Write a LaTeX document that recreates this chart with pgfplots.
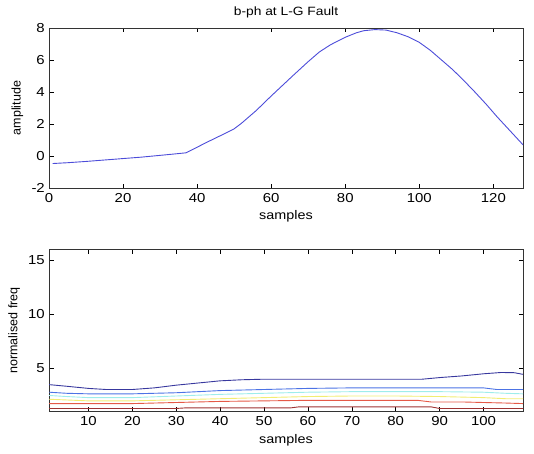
\documentclass[border=0pt]{standalone}
\usepackage{pgfplots}
\pgfplotsset{compat=1.18}
\usepackage{fontspec}
\setmainfont[FakeStretch=1.15]{Liberation Sans}
\newfontfamily\rotfont{Liberation Sans}
\definecolor{lineblue}{rgb}{0.30,0.30,0.85}
\definecolor{cnavy}{rgb}{0.22,0.22,0.62}
\definecolor{cblue}{rgb}{0.30,0.45,0.90}
\definecolor{ccyan}{rgb}{0.62,0.93,0.92}
\definecolor{cyellow}{rgb}{0.95,0.93,0.45}
\definecolor{cred}{rgb}{0.90,0.35,0.28}
\definecolor{cdred}{rgb}{0.62,0.20,0.20}
\begin{document}
\fontsize{12}{14}\selectfont
\begin{tikzpicture}
\useasboundingbox (0,0) rectangle (534pt,453pt);
\pgfplotsset{
  every axis/.append style={
    scale only axis, width=474pt,
    tick align=inside, major tick length=4.5pt,
    axis line style={line width=0.8pt, black!80},
    every tick/.style={black, line width=0.6pt},
    /pgf/number format/assume math mode=true,
    tick label style={font=\fontsize{13}{15}\selectfont},
    label style={font=\fontsize{12.5}{14}\selectfont},
    ylabel style={font=\rotfont\fontsize{12.5}{14}\selectfont},
    title style={font=\fontsize{12}{14}\selectfont},
    xticklabel style={yshift=-1pt},
  }
}
\begin{axis}[
  at={(49pt,265pt)}, anchor=south west, height=160pt,
  xmin=0, xmax=128, ymin=-2, ymax=8,
  xtick={0,20,...,120}, ytick={-2,0,...,8},
  title={b-ph at L-G Fault},
  xlabel={samples}, ylabel={amplitude},
]
\addplot[lineblue, line width=0.9pt] coordinates {
(1,-0.47)(5,-0.42)(10,-0.34)(15,-0.25)(20,-0.16)(25,-0.07)(30,0.04)(34,0.13)(37,0.2)
(40,0.55)(43,0.9)(47,1.35)(50,1.7)(52,2.05)(54,2.45)(56,2.85)(58,3.3)(60,3.75)(63,4.4)(66,5.05)(70,5.9)
(73,6.5)(76,6.95)(80,7.42)(83,7.7)(85,7.83)(88,7.9)(91,7.87)(94,7.7)(97,7.45)(100,7.1)
(103,6.6)(106,6.0)(109,5.4)(112,4.72)(115,4.0)(118,3.25)(121,2.45)(124,1.7)(126,1.2)(128,0.7)
};
\end{axis}
\begin{axis}[
  at={(49pt,41.3pt)}, anchor=south west, height=162.5pt,
  xmin=1, xmax=109, ymin=1, ymax=16,
  xtick={10,20,...,100}, ytick={5,10,15},
  xlabel={samples}, ylabel={normalised freq},
]
\addplot[cnavy, line width=0.9pt] coordinates {
(1,3.5)(5,3.35)(10,3.15)(14,3.05)(20,3.05)(25,3.2)(30,3.45)(35,3.65)(40,3.85)(45,3.95)
(50,4.0)(60,4.0)(70,4.0)(80,4.0)(86,4.0)(90,4.15)(95,4.3)(100,4.5)(104,4.62)(107,4.6)(109,4.45)
};
\addplot[cblue, line width=0.9pt] coordinates {
(1,2.8)(5,2.7)(10,2.65)(20,2.65)(25,2.7)(30,2.75)(40,2.95)(50,3.05)(60,3.15)(70,3.2)
(80,3.2)(90,3.2)(100,3.2)(103,3.05)(109,3.05)
};
\addplot[ccyan, line width=0.9pt] coordinates {
(1,2.5)(5,2.4)(10,2.3)(20,2.3)(30,2.45)(40,2.6)(50,2.7)(60,2.8)(70,2.85)(80,2.85)
(90,2.85)(100,2.8)(105,2.7)(109,2.65)
};
\addplot[cyellow, line width=0.9pt] coordinates {
(1,2.15)(10,2.0)(20,2.0)(30,2.1)(40,2.2)(50,2.3)(60,2.4)(70,2.45)(80,2.45)(90,2.4)
(100,2.3)(105,2.2)(109,2.2)
};
\addplot[cred, line width=0.9pt] coordinates {
(1,1.75)(10,1.75)(20,1.75)(25,1.8)(30,1.85)(40,1.95)(50,2.0)(60,2.05)(70,2.05)(85,2.05)
(88,1.9)(95,1.9)(100,1.85)(105,1.8)(109,1.75)
};
\addplot[cdred, line width=0.9pt] coordinates {
(1,1.3)(10,1.3)(20,1.3)(30,1.3)(32,1.35)(45,1.35)(56,1.35)(58,1.45)(70,1.45)(88,1.45)
(90,1.3)(100,1.3)(109,1.3)
};
\end{axis}
\end{tikzpicture}
\end{document}
